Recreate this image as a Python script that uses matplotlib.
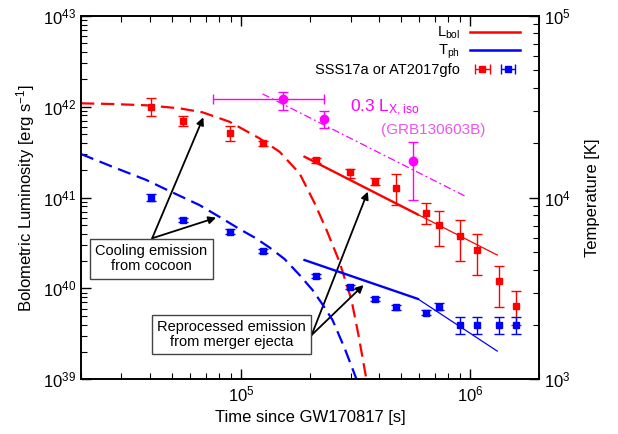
import matplotlib
matplotlib.use("Agg")
import matplotlib.pyplot as plt
import numpy as np
from matplotlib.legend_handler import HandlerTuple

plt.rcParams["font.family"] = ["Liberation Sans", "DejaVu Sans"]
plt.rcParams["mathtext.fontset"] = "custom"
plt.rcParams["mathtext.rm"] = "Liberation Sans"
plt.rcParams["mathtext.it"] = "Liberation Sans:italic"
plt.rcParams["mathtext.bf"] = "Liberation Sans:bold"

# SSS17a / AT2017gfo epochs [s]
t_obs = [4.05e4, 5.6e4, 8.9e4, 1.25e5, 2.13e5, 2.97e5, 3.85e5, 4.72e5,
         6.43e5, 7.3e5, 8.98e5, 1.065e6, 1.33e6, 1.59e6]

# bolometric luminosity [erg/s] with lower / upper bounds
lbol = [1.0e42, 6.95e41, 5.16e41, 3.95e41, 2.58e41, 1.92e41, 1.49e41, 1.28e41,
        6.8e40, 4.98e40, 3.8e40, 2.65e40, 1.22e40, 6.45e39]
lbol_lo = [7.94e41, 6.07e41, 4.19e41, 3.69e41, 2.40e41, 1.64e41, 1.37e41, 8.26e40,
           5.1e40, 2.95e40, 2.02e40, 1.40e40, 6.17e39, 3.98e39]
lbol_hi = [1.25e42, 7.94e41, 6.17e41, 4.22e41, 2.75e41, 2.06e41, 1.65e41, 1.8e41,
           8.63e40, 7.1e40, 5.6e40, 3.98e40, 1.78e40, 9.33e39]

# photospheric temperature [K]
tph = [1.0e4, 7.52e3, 6.49e3, 5.08e3, 3.7e3, 3.23e3, 2.77e3, 2.49e3,
       2.33e3, 2.51e3, 2.0e3, 2.0e3, 2.0e3, 2.0e3]
tph_lo = [9.55e3, 7.31e3, 6.31e3, 4.94e3, 3.6e3, 3.14e3, 2.69e3, 2.42e3,
          2.27e3, 2.40e3, 1.77e3, 1.77e3, 1.77e3, 1.77e3]
tph_hi = [1.047e4, 7.73e3, 6.67e3, 5.22e3, 3.8e3, 3.32e3, 2.85e3, 2.56e3,
          2.40e3, 2.63e3, 2.21e3, 2.21e3, 2.21e3, 2.21e3]

# GRB130603B, 0.3 L_X,iso
t_grb = [1.52e5, 2.31e5, 5.61e5]
t_grb_lo = [7.5e4, 2.31e5, 5.61e5]
t_grb_hi = [2.31e5, 2.31e5, 5.61e5]
l_grb = [1.21e42, 7.3e41, 2.52e41]
l_grb_lo = [9.2e41, 5.77e41, 9.3e40]
l_grb_hi = [1.46e42, 8.95e41, 4.1e41]
t_grb_fit = [1.24e5, 9.6e5]
l_grb_fit = [1.38e42, 1.02e41]

# cocoon cooling model (dashed)
t_coc_l = [2.0e4, 2.74e4, 3.86e4, 5.38e4, 6.78e4, 8.89e4, 1.202e5, 1.47e5,
           1.797e5, 2.09e5, 2.358e5, 2.687e5, 3.03e5, 3.25e5, 3.525e5]
l_coc = [1.087e42, 1.068e42, 1.034e42, 9.58e41, 8.66e41, 6.82e41, 4.48e41, 3.19e41,
         1.846e41, 8.7e40, 4.39e40, 1.95e40, 7.45e39, 3.07e39, 9.8e38]
t_coc_t = [2.0e4, 2.742e4, 3.86e4, 4.863e4, 6.575e4, 8.2e4, 9.83e4, 1.154e5,
           1.329e5, 1.546e5, 1.797e5, 2.048e5, 2.242e5, 2.504e5, 2.825e5, 3.188e5]
temp_coc = [1.735e4, 1.477e4, 1.248e4, 1.086e4, 9.09e3, 7.71e3, 6.71e3, 5.99e3,
            5.31e3, 4.59e3, 3.75e3, 3.10e3, 2.63e3, 2.12e3, 1.487e3, 1.0e3]

# merger ejecta model (solid, thick then thin)
t_ej = [1.89e5, 5.9e5, 1.31e6]
l_ej = [2.81e41, 6.5e40, 2.33e40]
temp_ej = [4.53e3, 2.77e3, 1.43e3]


def asym(vals, lo, hi):
    vals = np.asarray(vals)
    return [vals - np.asarray(lo), np.asarray(hi) - vals]


fig = plt.figure(figsize=(6.18, 4.34), dpi=100)
ax = fig.add_axes([0.131, 0.126, 0.7417, 0.8378])
ax2 = ax.twinx()

red, blue, mag = "#ff0000", "#0000ff", "#ff00ff"

# luminosity side
ax.plot(t_coc_l, l_coc, color=red, lw=1.6, dashes=(6, 3))
ax.plot(t_ej[:2], l_ej[:2], color=red, lw=1.7)
ax.plot(t_ej[1:], l_ej[1:], color=red, lw=0.9)
ax.errorbar(t_obs, lbol, yerr=asym(lbol, lbol_lo, lbol_hi), fmt="s", color=red,
            ms=5, elinewidth=1.0, capsize=3.5, capthick=1.0)
ax.plot(t_grb_fit, l_grb_fit, color=mag, lw=0.9, dashes=(6, 2.5, 1.5, 2.5))
ax.errorbar(t_grb, l_grb, xerr=asym(t_grb, t_grb_lo, t_grb_hi),
            yerr=asym(l_grb, l_grb_lo, l_grb_hi), fmt="o", color=mag,
            ms=6, elinewidth=1.0, capsize=3.5, capthick=1.0)

# temperature side
ax2.plot(t_coc_t, temp_coc, color=blue, lw=1.6, dashes=(6, 3))
ax2.plot(t_ej[:2], temp_ej[:2], color=blue, lw=1.7)
ax2.plot(t_ej[1:], temp_ej[1:], color=blue, lw=0.9)
ax2.errorbar(t_obs, tph, yerr=asym(tph, tph_lo, tph_hi), fmt="s", color=blue,
             ms=5, elinewidth=1.0, capsize=3.5, capthick=1.0)

ax.set_xscale("log")
ax.set_yscale("log")
ax2.set_yscale("log")
ax.set_xlim(2e4, 2e6)
ax.set_ylim(1e39, 1e43)
ax2.set_ylim(1e3, 1e5)

ax.tick_params(which="both", direction="in", top=True, labelsize=12)
ax.tick_params(which="major", length=7, width=1)
ax.tick_params(which="minor", length=4, width=0.8)
ax2.tick_params(which="both", direction="in", labelsize=12)
ax2.tick_params(which="major", length=7, width=1)
ax2.tick_params(which="minor", length=4, width=0.8)
for a in (ax, ax2):
    for s in a.spines.values():
        s.set_linewidth(1.2)

ax.set_xlabel("Time since GW170817 [s]", fontsize=12)
ax.set_ylabel("Bolometric Luminosity [erg s$^{-1}$]", fontsize=12)
ax2.set_ylabel("Temperature [K]", fontsize=12, labelpad=10)

ax.text(2.97e5, 9.8e41, "0.3 L$_{\\mathrm{X,iso}}$", color=mag, fontsize=12.5,
        ha="left", va="center")
ax.text(6.87e5, 5.53e41, "(GRB130603B)", color="#ee55ee", fontsize=11,
        ha="center", va="center")

# annotation boxes and arrows
box = dict(boxstyle="square,pad=0.35", fc="white", ec="#444444", lw=1.0)
ax.text(4.06e4, 2.11e40, "Cooling emission\nfrom cocoon", fontsize=10.5,
        ha="center", va="center", bbox=box, zorder=6, linespacing=1.1)
ax.text(9.09e4, 3.09e39, "Reprocessed emission\nfrom merger ejecta", fontsize=10.5,
        ha="center", va="center", bbox=box, zorder=6, linespacing=1.1)
arrow = dict(arrowstyle="-|>", color="black", lw=1.3, mutation_scale=11,
             shrinkA=0, shrinkB=0)
ax.annotate("", xy=(6.84e4, 7.62e41), xytext=(4.09e4, 3.56e40), arrowprops=arrow)
ax.annotate("", xy=(7.78e4, 6.0e40), xytext=(4.09e4, 3.56e40), arrowprops=arrow)
ax.annotate("", xy=(3.57e5, 1.16e41), xytext=(2.03e5, 3.07e39), arrowprops=arrow)
ax.annotate("", xy=(3.42e5, 1.09e40), xytext=(2.03e5, 3.07e39), arrowprops=arrow)

# legend
h_l, = ax2.plot([], [], color=red, lw=1.8)
h_t, = ax2.plot([], [], color=blue, lw=1.8)
e_r = ax2.errorbar([np.nan], [np.nan], xerr=[1.0], fmt="s", color=red, ms=4,
                   elinewidth=1.0, capsize=3.5)
e_b = ax2.errorbar([np.nan], [np.nan], xerr=[1.0], fmt="s", color=blue, ms=4,
                   elinewidth=1.0, capsize=3.5)
ax2.legend([h_l, h_t, (e_r, e_b)],
           ["L$_{\\mathrm{bol}}$", "T$_{\\mathrm{ph}}$", "SSS17a or AT2017gfo"],
           handler_map={tuple: HandlerTuple(ndivide=None, pad=0.1)},
           loc="upper right", bbox_to_anchor=(520 / 618, 1 - 25 / 434),
           bbox_transform=fig.transFigure, frameon=False, markerfirst=False,
           fontsize=10.5, borderpad=0, borderaxespad=0, handlelength=3.4,
           handletextpad=0.7, labelspacing=0.1)

fig.savefig("out.png", dpi=100)
